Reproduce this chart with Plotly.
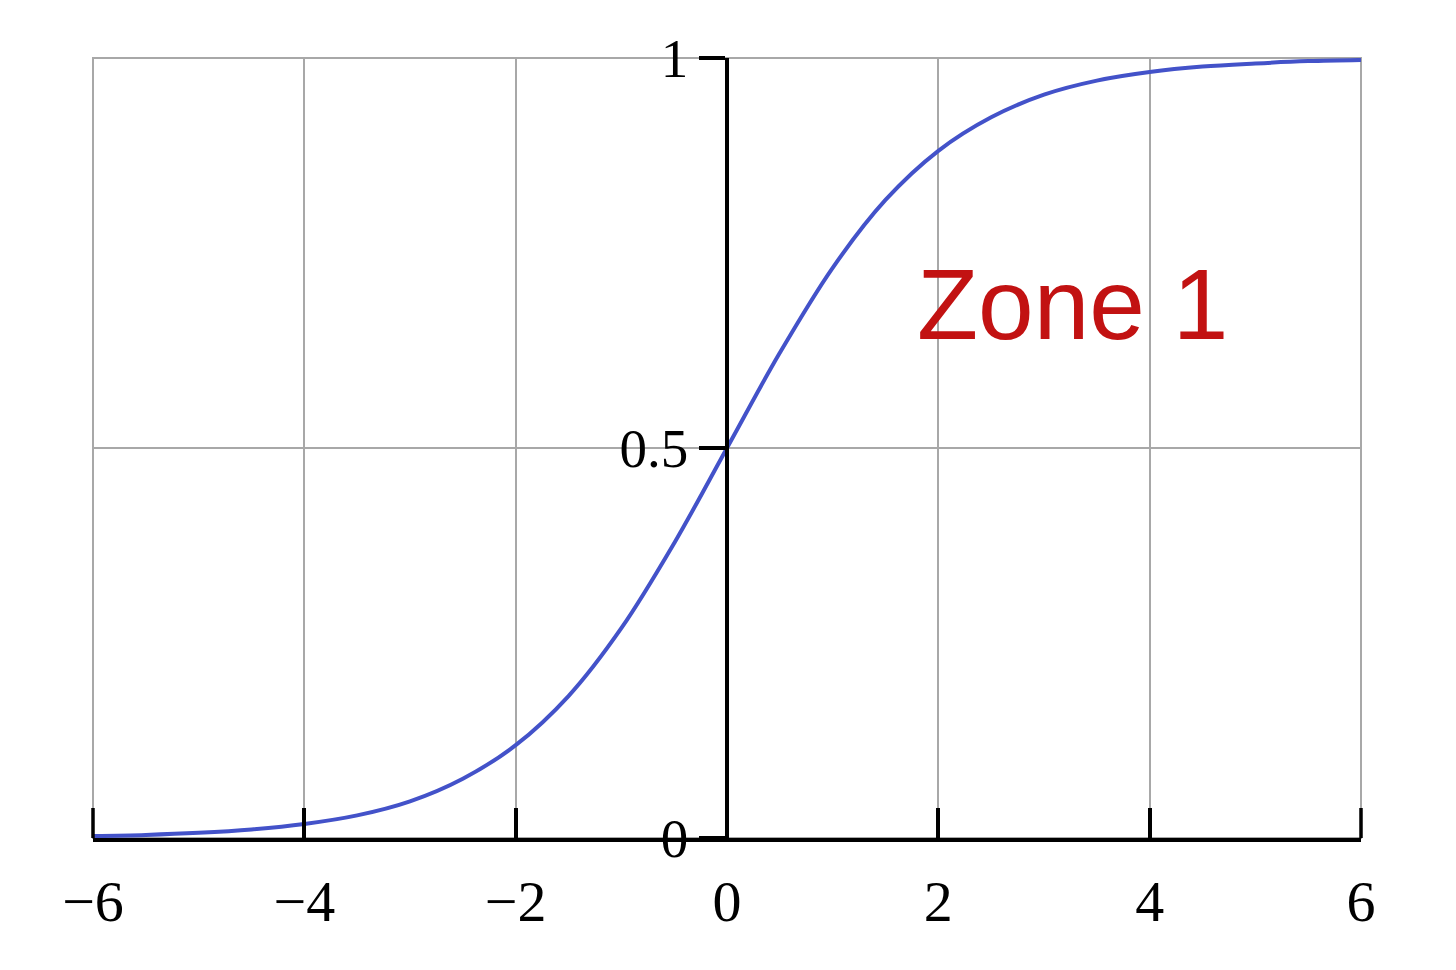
import plotly.graph_objects as go

# values
x_vals = [-6, -5.5, -5, -4.5, -4, -3.5, -3, -2.5, -2, -1.5, -1, -0.5, 0,
          0.5, 1, 1.5, 2, 2.5, 3, 3.5, 4, 4.5, 5, 5.5, 6]
y_vals = [0.0025, 0.004, 0.0067, 0.011, 0.018, 0.029, 0.047, 0.076, 0.119, 0.182,
          0.269, 0.378, 0.5, 0.622, 0.731, 0.818, 0.881, 0.924, 0.953, 0.971,
          0.982, 0.989, 0.993, 0.996, 0.9975]

x_ticks = [-6, -4, -2, 0, 2, 4, 6]
x_tick_text = ["\u22126", "\u22124", "\u22122", "0", "2", "4", "6"]
y_ticks = [0, 0.5, 1]
y_tick_text = ["0", "0.5", "1"]

note_text = "Zone 1"
note_x = 3.27
note_y = 0.685

GRID = "#A8A8A8"
PLOT_H = 780
TICK_LEN = 30

fig = go.Figure()
fig.add_trace(go.Scatter(
    x=x_vals, y=y_vals, mode="lines",
    line=dict(color="#4352C9", width=4, shape="spline", smoothing=1.0),
    hoverinfo="skip", showlegend=False,
))

# light frame around the plotting area (grid lines at the range edges)
fig.add_shape(type="rect", xref="x domain", yref="y domain", x0=0, x1=1, y0=0, y1=1,
              line=dict(color=GRID, width=2), layer="below")

# Plotly hides the inside ticks at the very ends of the range: draw those two
# (paper-referenced so they are not clipped by the plotting area)
for xp in (0, 1):
    fig.add_shape(type="line", xref="paper", yref="paper", x0=xp, x1=xp,
                  y0=0, y1=TICK_LEN / PLOT_H, line=dict(color="black", width=3.5))

fig.add_annotation(
    x=note_x, y=note_y, xref="x", yref="y", text=note_text, showarrow=False,
    font=dict(family="Liberation Sans, sans-serif", size=100, color="#C21212"),
)

fig.update_layout(
    width=1448, height=962, autosize=False,
    margin=dict(l=85, r=95, t=50, b=132, pad=0),
    paper_bgcolor="white", plot_bgcolor="white",
    font=dict(family="Liberation Serif, serif", color="black"),
    xaxis=dict(
        range=[-6, 6], tickmode="array", tickvals=x_ticks, ticktext=x_tick_text,
        showgrid=True, gridcolor=GRID, gridwidth=2,
        zeroline=False, showline=True, linecolor="black", linewidth=3.5,
        ticks="inside", ticklen=TICK_LEN, tickwidth=3.5, tickcolor="black",
        tickfont=dict(size=58, family="Liberation Serif, serif", color="black"),
        ticklabelstandoff=10,
    ),
    yaxis=dict(
        range=[0, 1], tickmode="array", tickvals=y_ticks, ticktext=y_tick_text,
        anchor="free", position=0.5,
        showgrid=True, gridcolor=GRID, gridwidth=2,
        zeroline=False, showline=True, linecolor="black", linewidth=3.5,
        ticks="outside", ticklen=26, tickwidth=3.5, tickcolor="black",
        tickfont=dict(size=55, family="Liberation Serif, serif", color="black"),
    ),
)

fig.write_html("out.html")
